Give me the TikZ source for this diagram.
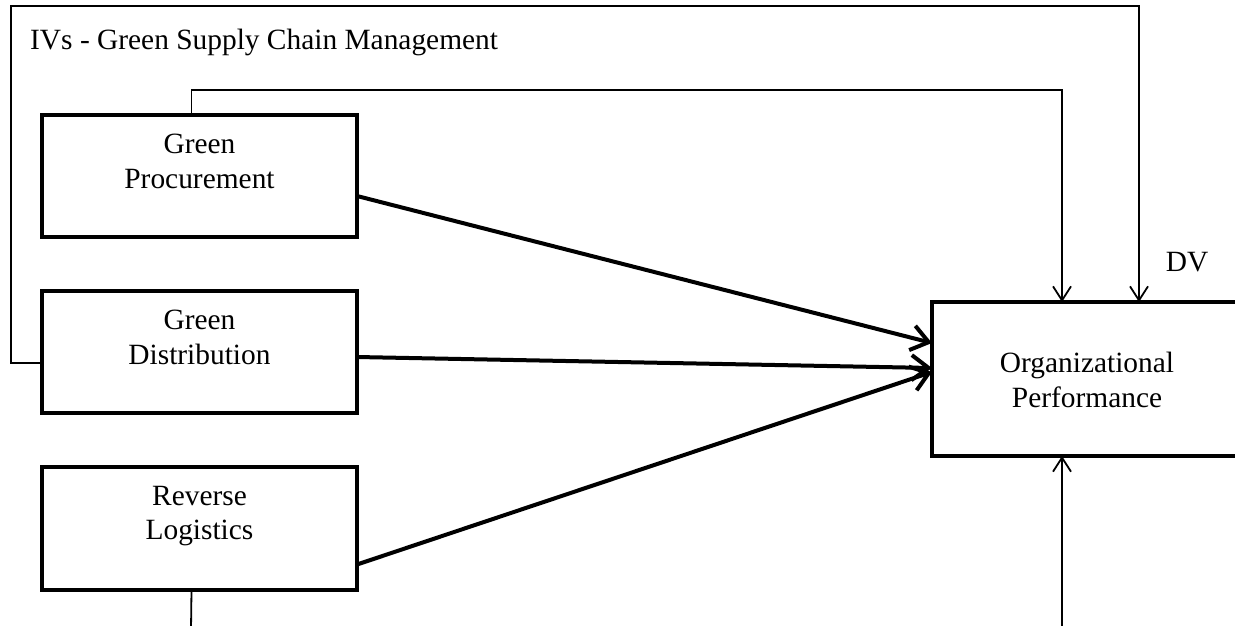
\documentclass[tikz,border=0pt]{standalone}
\usepackage{fontspec}
\setmainfont{Liberation Serif}
\usetikzlibrary{arrows.meta}
\begin{document}
\begin{tikzpicture}[x=1pt,y=-1pt,
  box/.style={draw,line width=4.5pt,minimum width=315pt,minimum height=122pt,inner sep=0pt,outer sep=0pt,anchor=north west},
  txt/.style={font=\fontsize{29.4}{34.5}\selectfont,align=center,inner sep=0pt},
  thinline/.style={line width=1.8pt},
  thinarrow/.style={thinline,-{Straight Barb[length=14pt,width=18pt,line width=1.8pt]}},
  thickarrow/.style={line width=4pt,-{Straight Barb[length=17pt,width=25pt,line width=4pt]}}]
\clip (0,0) rectangle (1235,625);
\useasboundingbox (0,0) rectangle (1235,625);

\node[box] (gp) at (42,115) {};
\node[box] (gd) at (42,291) {};
\node[box,minimum height=123pt] (rl) at (42,467) {};
\node[box,minimum width=320pt,minimum height=154pt] (op) at (932,302) {};

\node[txt,anchor=north] (gpt) at ([yshift=-19pt]gp.north) {Green\\Procurement};
\node[txt,anchor=north] (gdt) at ([yshift=-19pt]gd.north) {Green\\Distribution};
\node[txt,anchor=north] (rlt) at ([yshift=-19pt]rl.north) {Reverse\\Logistics};
\node[txt] (opt) at (1087,380) {Organizational\\Performance};
\node[txt] (dv) at (1187,262) {DV};
\node[txt,anchor=base west] (ivs) at (30,49) {IVs - Green Supply Chain Management};

\coordinate (r1) at (1139,6);
\coordinate (r2) at (1062,90);
\coordinate (b1) at (191,630);
\coordinate (b2) at (1062,630);

\draw[thinarrow] ([yshift=50pt]gd.south west) -| (11,6) -| (op.north west -| r1);
\draw[thinarrow] ([xshift=-8pt]gp.north) |- (r2) -- (op.north west -| r2);
\draw[thinline] ([xshift=-8pt]rl.south) -- (b1);
\draw[thinarrow] (b2) -- (op.south west -| b2);

\draw[thickarrow] ([yshift=-20pt]gp.east) -- ([yshift=36pt]op.west);
\draw[thickarrow] ([yshift=-5pt]gd.east) -- ([yshift=11pt]op.west);
\draw[thickarrow] ([yshift=-36pt]rl.east) -- ([yshift=7pt]op.west);
\end{tikzpicture}
\end{document}
